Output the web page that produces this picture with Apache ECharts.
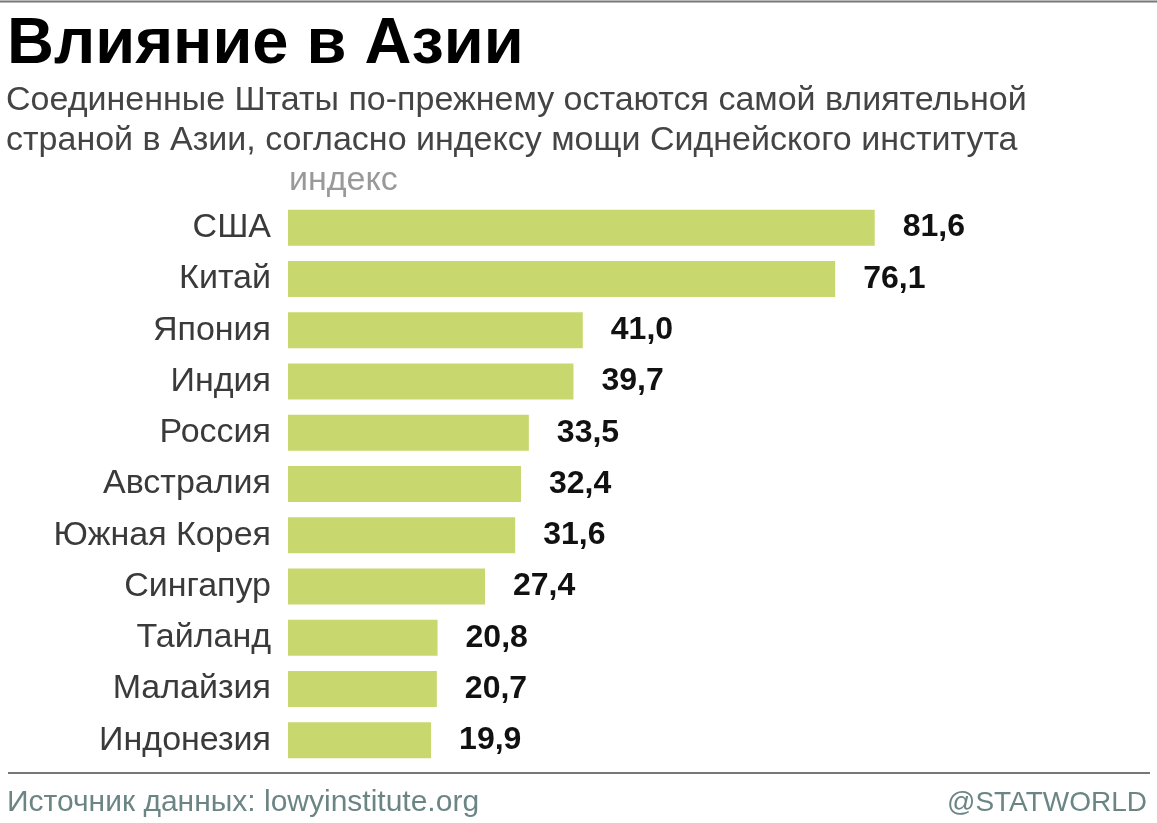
<!DOCTYPE html>
<html><head><meta charset="utf-8">
<script src="https://cdn.jsdelivr.net/npm/echarts@6/dist/echarts.min.js"></script>
<style>html,body{margin:0;padding:0;background:#fff}#c{width:1157px;height:823px}</style>
</head><body><div id="c"></div>
<script>
const categories = ['США','Китай','Япония','Индия','Россия','Австралия','Южная Корея','Сингапур','Тайланд','Малайзия','Индонезия'];
const values = [81.6,76.1,41.0,39.7,33.5,32.4,31.6,27.4,20.8,20.7,19.9];
const titleText = 'Влияние в Азии';
const subtitleLines = ['Соединенные Штаты по-прежнему остаются самой влиятельной','страной в Азии, согласно индексу мощи Сиднейского института'];
const unitLabel = 'индекс';
const sourceText = 'Источник данных: lowyinstitute.org';
const brandText = '@STATWORLD';

const FONT = '"Liberation Sans", Arial, Helvetica, sans-serif';
const chart = echarts.init(document.getElementById('c'), null, {renderer:'canvas'});
chart.setOption({
  backgroundColor:'#fff',
  animation:false,
  grid:{left:288, top:202, height:564, width:719, containLabel:false},
  xAxis:{type:'value', min:0, max:100, show:false},
  yAxis:{type:'category', data:categories, inverse:true,
    axisLine:{show:false}, axisTick:{show:false},
    axisLabel:{fontFamily:FONT, fontSize:34, color:'#3a3a3a', margin:17, padding:[4,0,0,0]}},
  series:[{type:'bar', data:values, barWidth:36,
    itemStyle:{color:'#c9d86e'},
    label:{show:true, position:'right', distance:28, fontFamily:FONT, fontSize:32, fontWeight:'bold', color:'#111',
      padding:[6,0,0,0],
      formatter:p=>p.value.toFixed(1).replace('.',',')}}],
  graphic:[
    {type:'line', shape:{x1:0,y1:1.5,x2:1157,y2:1.5}, style:{stroke:'#777', lineWidth:2}},
    {type:'text', left:7, top:13, style:{text:titleText, font:'bold 65px '+FONT, fill:'#000'}},
    {type:'text', left:6, top:81, style:{text:subtitleLines.join('\n'), font:'34px '+FONT, fill:'#444', lineHeight:40}},
    {type:'text', left:289, top:164, style:{text:unitLabel, font:'34px '+FONT, fill:'#999'}},
    {type:'line', shape:{x1:8,y1:773,x2:1150,y2:773}, style:{stroke:'#777', lineWidth:2}},
    {type:'text', left:7, top:788, style:{text:sourceText, font:'30px '+FONT, fill:'#6b8585'}},
    {type:'text', right:10, top:789, style:{text:brandText, font:'28px '+FONT, fill:'#6b8585'}}
  ]
});
</script></body></html>
